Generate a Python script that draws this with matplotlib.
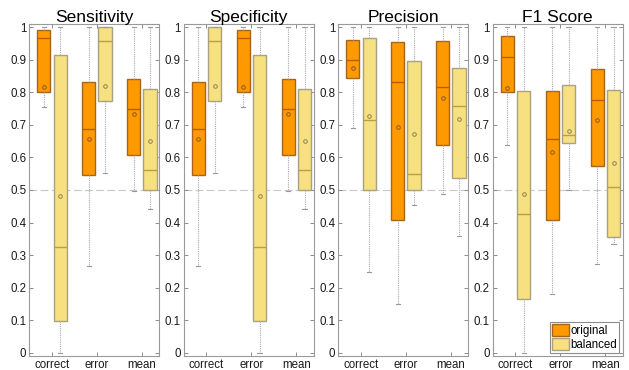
import matplotlib.pyplot as plt
from matplotlib.patches import Patch

plt.rcParams['font.family'] = ['Liberation Sans', 'DejaVu Sans']

##- data -##
metrics = ["Sensitivity", "Specificity", "Precision", "F1 Score"]
groups = ["correct", "error", "mean"]
variants = ["original", "balanced"]

# (whislo, q1, median, q3, whishi) per group: correct, error, mean
sensitivity_original = [(0.754, 0.800, 0.968, 0.993, 1.0), (0.265, 0.547, 0.686, 0.833, 1.0), (0.498, 0.608, 0.750, 0.842, 1.0)]
sensitivity_balanced = [(0.000, 0.097, 0.326, 0.916, 1.0), (0.552, 0.774, 0.958, 1.000, 1.0), (0.442, 0.500, 0.562, 0.811, 1.0)]
specificity_original = [(0.265, 0.547, 0.686, 0.833, 1.0), (0.754, 0.800, 0.968, 0.993, 1.0), (0.498, 0.608, 0.750, 0.842, 1.0)]
specificity_balanced = [(0.552, 0.774, 0.958, 1.000, 1.0), (0.000, 0.097, 0.326, 0.916, 1.0), (0.442, 0.500, 0.562, 0.811, 1.0)]
precision_original = [(0.690, 0.845, 0.898, 0.960, 1.0), (0.150, 0.408, 0.832, 0.954, 1.0), (0.488, 0.639, 0.816, 0.958, 1.0)]
precision_balanced = [(0.248, 0.500, 0.714, 0.968, 1.0), (0.454, 0.500, 0.550, 0.895, 1.0), (0.358, 0.538, 0.759, 0.875, 1.0)]
f1_original = [(0.638, 0.800, 0.908, 0.972, 1.0), (0.181, 0.408, 0.656, 0.804, 1.0), (0.273, 0.574, 0.778, 0.871, 1.0)]
f1_balanced = [(0.000, 0.166, 0.427, 0.805, 1.0), (0.500, 0.645, 0.668, 0.824, 1.0), (0.335, 0.357, 0.510, 0.808, 1.0)]

# means (small circles)
sensitivity_original_mean = [0.816, 0.656, 0.734]
sensitivity_balanced_mean = [0.482, 0.820, 0.651]
specificity_original_mean = [0.656, 0.816, 0.734]
specificity_balanced_mean = [0.820, 0.482, 0.651]
precision_original_mean = [0.874, 0.695, 0.784]
precision_balanced_mean = [0.727, 0.672, 0.719]
f1_original_mean = [0.814, 0.618, 0.716]
f1_balanced_mean = [0.488, 0.681, 0.583]

panels = [
    (sensitivity_original, sensitivity_original_mean, sensitivity_balanced, sensitivity_balanced_mean),
    (specificity_original, specificity_original_mean, specificity_balanced, specificity_balanced_mean),
    (precision_original, precision_original_mean, precision_balanced, precision_balanced_mean),
    (f1_original, f1_original_mean, f1_balanced, f1_balanced_mean),
]

##- styles -##
face = {"original": "#FF9900", "balanced": "#F7E07F"}
edge = {"original": "#A8641A", "balanced": "#A9A282"}
med_col = {"original": "#B35F00", "balanced": "#B89E45"}
mean_col = {"original": "#8A5A20", "balanced": "#8F8255"}
offset = {"original": -0.18, "balanced": 0.18}


def make_stats(summary, means):
    out = []
    for (lo, q1, med, q3, hi), m in zip(summary, means):
        out.append(dict(whislo=lo, q1=q1, med=med, q3=q3, whishi=hi, mean=m, fliers=[]))
    return out


W, H = 629, 370
fig = plt.figure(figsize=(W / 100, H / 100), dpi=100)
lefts = [29, 183.5, 338, 492.5]

for k, (title, data) in enumerate(zip(metrics, panels)):
    ax = fig.add_axes([lefts[k] / W, 14 / H, 130 / W, 332 / H])
    series = {"original": (data[0], data[1]), "balanced": (data[2], data[3])}
    for v in variants:
        summ, means = series[v]
        pos = [i + 1 + offset[v] for i in range(len(groups))]
        ax.bxp(make_stats(summ, means), positions=pos, widths=0.29,
               patch_artist=True, showmeans=True, showfliers=False,
               capwidths=0.09,
               boxprops=dict(facecolor=face[v], edgecolor=edge[v], linewidth=1.0),
               medianprops=dict(color=med_col[v], linewidth=1.0),
               whiskerprops=dict(color="#A8A8A8", linestyle=(0, (1, 1)), linewidth=0.8),
               capprops=dict(color="#999999", linewidth=0.8),
               meanprops=dict(marker="o", markersize=2.6, markerfacecolor="none",
                              markeredgecolor=mean_col[v], markeredgewidth=0.7))
    ax.axhline(0.5, color="#C8C8C8", ls=(0, (7, 3)), lw=0.8, zorder=0)
    ax.set_xlim(0.49, 3.38)
    ax.set_ylim(-0.01, 1.01)
    ax.set_xticks([1, 2, 3])
    ax.set_xticklabels(groups)
    ax.set_yticks([i / 10 for i in range(11)])
    ax.set_yticklabels(["0"] + ["0.%d" % i for i in range(1, 10)] + ["1"])
    ax.tick_params(direction="in", length=3, top=True, right=True, color="#8C8C8C",
                   labelsize=8.3, pad=2, labelcolor="#1A1A1A", width=0.7)
    for s in ax.spines.values():
        s.set_color("#9A9A9A")
        s.set_linewidth(0.8)
    ax.set_title(title, fontsize=12.5, pad=1.5)

    if k == 3:
        handles = [Patch(facecolor=face[v], edgecolor=edge[v], label=v) for v in variants]
        leg = ax.legend(handles=handles, loc="lower right", fontsize=8.3, fancybox=False,
                        edgecolor="#8C8C8C", framealpha=1, handlelength=1.5,
                        handleheight=1.2, handletextpad=0.1, borderpad=0.15,
                        labelspacing=0.1, borderaxespad=0.3,
                        bbox_to_anchor=(1.0, 0.0))
        leg.get_frame().set_linewidth(0.8)

fig.savefig("out.png", dpi=100)
